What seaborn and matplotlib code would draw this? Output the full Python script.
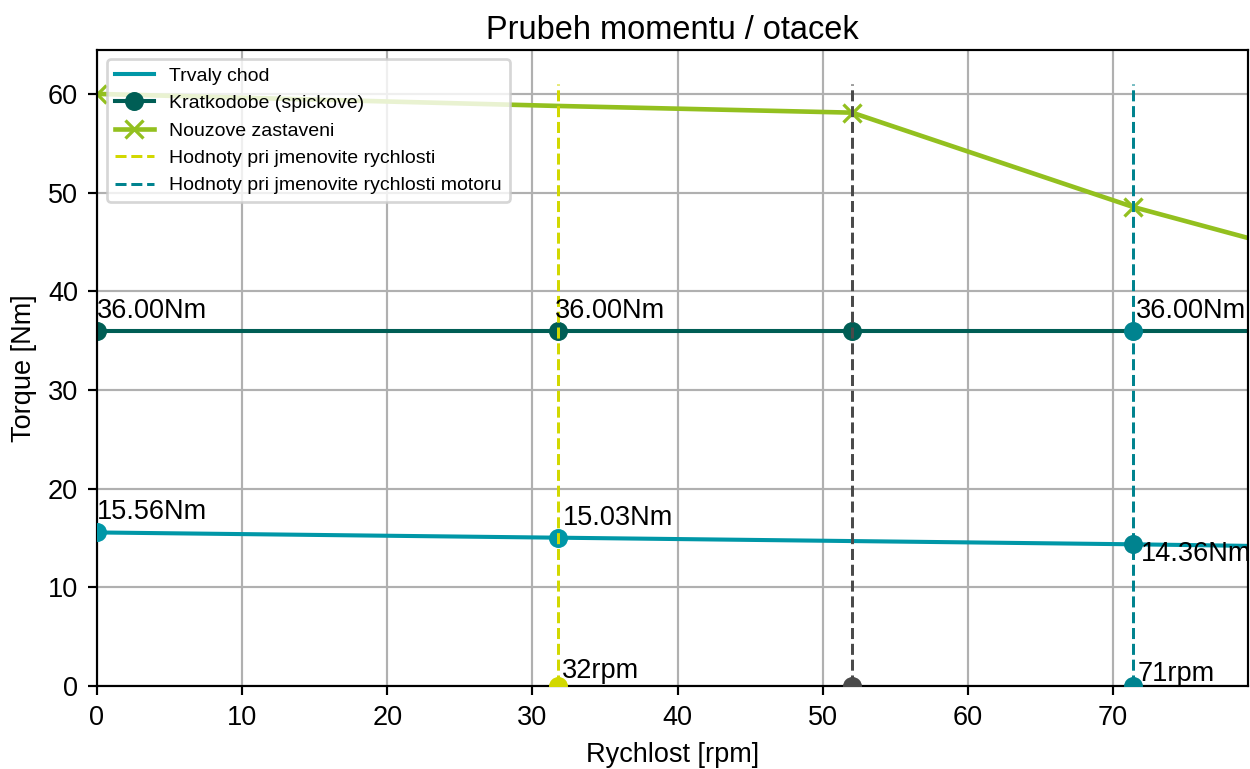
import matplotlib
matplotlib.use("Agg")
import matplotlib.pyplot as plt
from matplotlib.lines import Line2D
import seaborn as sns
import numpy as np

# ---- data ----
speed_nominal = 31.73        # rpm, nominal speed
speed_mid = 52.03            # rpm, corner point
speed_motor = 71.37          # rpm, motor nominal speed
speed_max = 79.3             # rpm, axis end

trvaly_x = [0.0, 31.73, 71.37, 79.3]
trvaly_y = [15.56, 15.03, 14.36, 14.2]

kratko_x = [0.0, 31.73, 52.03, 79.3]
kratko_y = [36.0, 36.0, 36.0, 36.0]

nouzove_x = [0.0, 31.73, 52.03, 71.37, 79.3]
nouzove_y = [60.0, 58.78, 58.1, 48.55, 45.4]

series_labels = ["Trvaly chod", "Kratkodobe (spickove)", "Nouzove zastaveni",
                 "Hodnoty pri jmenovite rychlosti", "Hodnoty pri jmenovite rychlosti motoru"]

# ---- style ----
C_TRV = "#0097A7"
C_KRA = "#005E55"
C_NOU = "#93C01F"
C_YEL = "#D2D800"
C_TEAL = "#00838F"
C_GRAY = "#4A4A4A"
MS = 7

DPI = 195.3125
fig = plt.figure(figsize=(1250 / DPI, 769 / DPI), dpi=DPI)
plt.rcParams["font.family"] = ["Liberation Sans", "DejaVu Sans"]
ax = fig.add_axes([97 / 1250, 1 - 686 / 769, (1248 - 97) / 1250, (686 - 49.5) / 769])

ax.grid(True, color="#b0b0b0", linewidth=0.8, zorder=0)
ax.set_axisbelow(True)

# main series
sns.lineplot(x=trvaly_x, y=trvaly_y, ax=ax, color=C_TRV, linewidth=1.5, sort=False,
             zorder=2, legend=False)
sns.lineplot(x=kratko_x, y=kratko_y, ax=ax, color=C_KRA, linewidth=1.5, sort=False,
             marker="o", markersize=MS, markeredgewidth=0, markeredgecolor=C_KRA,
             markevery=[0, 1, 2], zorder=2, legend=False)
sns.lineplot(x=nouzove_x, y=nouzove_y, ax=ax, color=C_NOU, linewidth=1.7, sort=False,
             marker="x", markersize=MS, markeredgewidth=1.2, markeredgecolor=C_NOU,
             markevery=[0, 2, 3], zorder=2, legend=False)

# points on the continuous curve
ax.plot(trvaly_x[:2], trvaly_y[:2], linestyle="none", marker="o", markersize=MS,
        markeredgewidth=0, color=C_TRV, zorder=3)

# vertical reference lines
vtop = 61.0
ax.plot([speed_nominal, speed_nominal], [0, vtop], linestyle="--", color=C_YEL, linewidth=1.1, zorder=4)
ax.plot([speed_mid, speed_mid], [0, vtop], linestyle="--", color=C_GRAY, linewidth=1.1, zorder=4)
ax.plot([speed_motor, speed_motor], [0, vtop], linestyle="--", color=C_TEAL, linewidth=1.1, zorder=4)

# markers at motor speed
ax.plot([speed_motor, speed_motor], [trvaly_y[2], kratko_y[0]], linestyle="none", marker="o",
        markersize=MS, markeredgewidth=0, color=C_TEAL, zorder=5)
# markers on axis
ax.plot([speed_nominal], [0], linestyle="none", marker="o", markersize=MS, markeredgewidth=0,
        color=C_YEL, zorder=5)
ax.plot([speed_mid], [0], linestyle="none", marker="o", markersize=MS, markeredgewidth=0,
        color=C_GRAY, zorder=5)
ax.plot([speed_motor], [0], linestyle="none", marker="o", markersize=MS, markeredgewidth=0,
        color=C_TEAL, zorder=5)

# annotations
fs = 10
def note(x, y, txt, dx, dy):
    ax.annotate(txt, (x, y), xytext=(dx, dy), textcoords="offset points",
                ha="left", va="baseline", fontsize=fs, zorder=6, annotation_clip=False)

note(0, kratko_y[0], f"{kratko_y[0]:.2f}Nm", 0, 4.8)
note(speed_nominal, kratko_y[0], f"{kratko_y[0]:.2f}Nm", -1.1, 4.8)
note(speed_motor, kratko_y[0], f"{kratko_y[0]:.2f}Nm", 1.1, 4.8)
note(0, trvaly_y[0], f"{trvaly_y[0]:.2f}Nm", 0, 5.0)
note(speed_nominal, trvaly_y[1], f"{trvaly_y[1]:.2f}Nm", 1.8, 4.6)
note(speed_motor, trvaly_y[2], f"{trvaly_y[2]:.2f}Nm", 2.9, -6.3)
note(speed_nominal, 0, f"{round(speed_nominal)}rpm", 1.5, 2.9)
note(speed_motor, 0, f"{round(speed_motor)}rpm", 1.8, 2.0)

ax.set_xlim(0, speed_max)
ax.set_ylim(0, 64.5)
ax.set_xticks(np.arange(0, 80, 10))
ax.set_yticks(np.arange(0, 61, 10))
ax.tick_params(labelsize=10)
ax.set_xlabel("Rychlost [rpm]", fontsize=10)
ax.set_ylabel("Torque [Nm]", fontsize=10)
ax.set_title("Prubeh momentu / otacek", fontsize=12, pad=4)

handles = [
    Line2D([], [], color=C_TRV, linewidth=1.5),
    Line2D([], [], color=C_KRA, linewidth=1.5, marker="o", markersize=MS, markeredgewidth=0),
    Line2D([], [], color=C_NOU, linewidth=1.7, marker="x", markersize=MS, markeredgewidth=1.2),
    Line2D([], [], color=C_YEL, linewidth=1.1, linestyle="--"),
    Line2D([], [], color=C_TEAL, linewidth=1.1, linestyle="--"),
]
ax.legend(handles, series_labels, loc="upper left", fontsize=7.2)

fig.savefig("out.png", dpi=DPI)
